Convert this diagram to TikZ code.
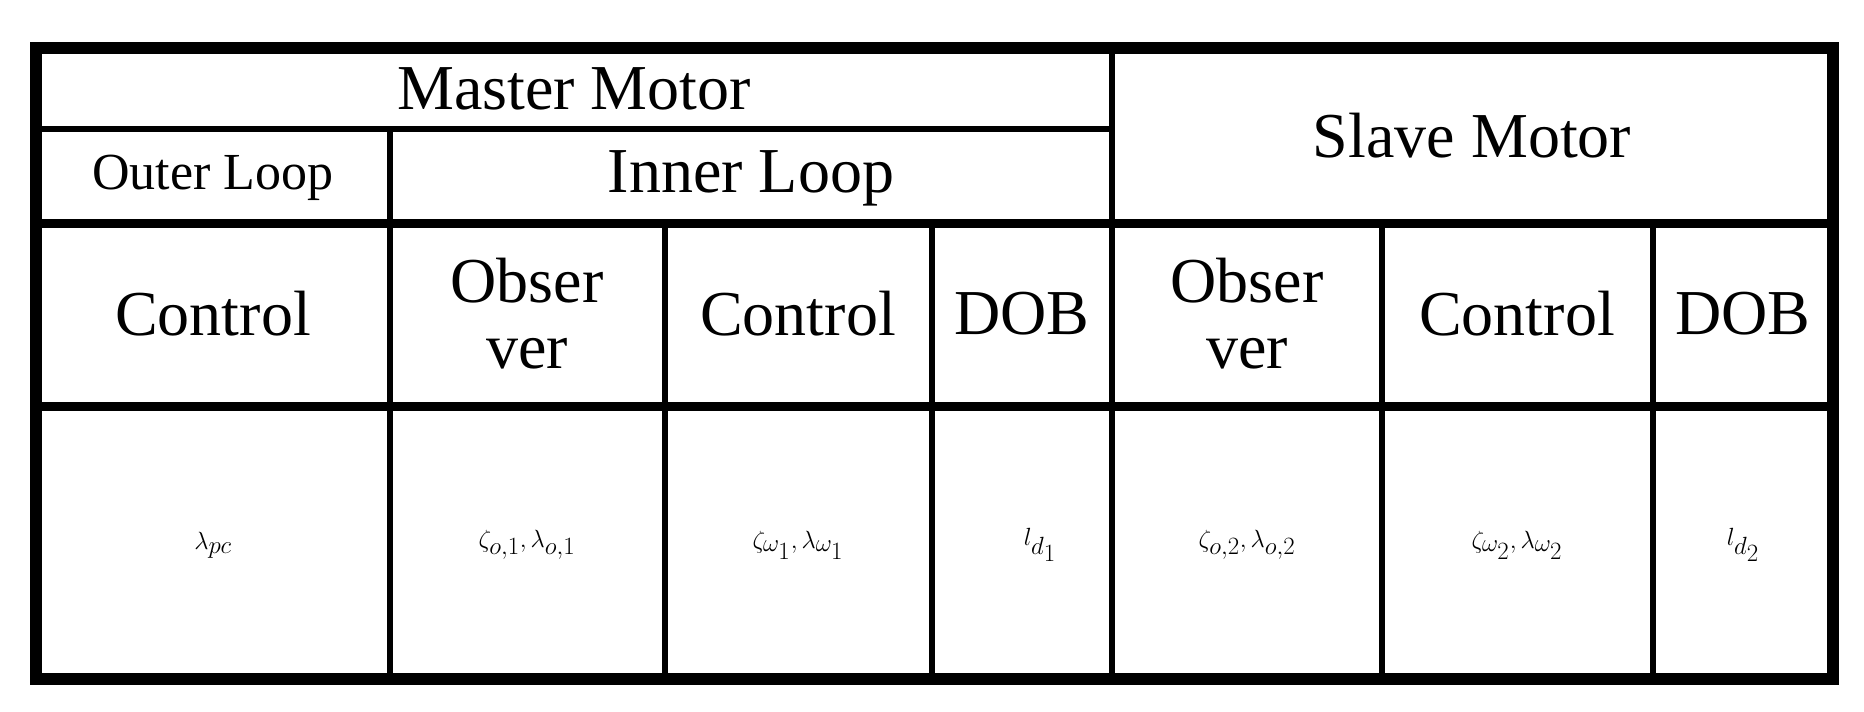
\documentclass[tikz,border=0pt]{standalone}
\usepackage{fontspec}
\setmainfont{Liberation Serif}
\begin{document}
\begin{tikzpicture}[x=1pt,y=-1pt,
  thin line/.style={line width=6pt},
  thick line/.style={line width=9pt},
  txt/.style={font=\fontsize{64}{66}\selectfont, inner sep=0pt, align=center},
  sm/.style={font=\fontsize{52}{56}\selectfont, inner sep=0pt},
  mth/.style={font=\fontsize{64}{66}\selectfont, inner sep=0pt}]
\useasboundingbox (0,0) rectangle (1864,712);
\fill[white] (0,0) rectangle (1864,712);
% grid
\draw[thin line] (36,129) -- (1112,129);
\draw[thick line] (36,223) -- (1833,223);
\draw[thick line] (36,406) -- (1833,406);
\draw[thin line] (390,129) -- (390,679);
\draw[thin line] (665,223) -- (665,679);
\draw[thin line] (932,223) -- (932,679);
\draw[thin line] (1112,48) -- (1112,679);
\draw[thin line] (1382,223) -- (1382,679);
\draw[thin line] (1653,223) -- (1653,679);
\draw[line width=12pt] (36,48) rectangle (1833,679);
% headers
\node[txt] (mm) at (574,89) {Master Motor};
\node[txt] (sm) at (1472,136) {Slave Motor};
\node[sm] (ol) at (213,178) {Outer Loop};
\node[txt] (il) at (751,178) {Inner Loop};
\node[txt] (c1) at (213,314) {Control};
\node[txt] (o1) at (527,314) {Obser\\ver};
\node[txt] (c2) at (798,314) {Control};
\node[txt] (d1) at (1022,314) {DOB};
\node[txt] (o2) at (1247,314) {Obser\\ver};
\node[txt] (c3) at (1517,314) {Control};
\node[txt] (d2) at (1743,314) {DOB};
% values
\node[mth] (v1) at (213,545) {$\lambda_{pc}$};
\node[mth] (v2) at (527,545) {$\zeta_{o,1},\lambda_{o,1}$};
\node[mth] (v3) at (798,545) {$\zeta_{\omega_1},\lambda_{\omega_1}$};
\node[mth] (v4) at (1040,545) {$l_{d_1}$};
\node[mth] (v5) at (1247,545) {$\zeta_{o,2},\lambda_{o,2}$};
\node[mth] (v6) at (1517,545) {$\zeta_{\omega_2},\lambda_{\omega_2}$};
\node[mth] (v7) at (1743,545) {$l_{d_2}$};
\end{tikzpicture}
\end{document}
